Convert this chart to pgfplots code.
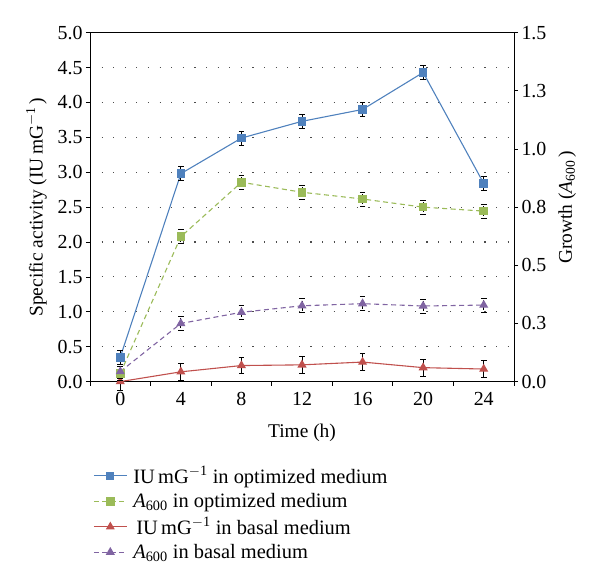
\documentclass[border=0pt]{standalone}
\usepackage{pgfplots}
\pgfplotsset{compat=1.18}
\usepackage{fontspec}
\setmainfont{Liberation Serif}
\definecolor{cblue}{HTML}{4F81BD}
\definecolor{cgreen}{HTML}{9BBB59}
\definecolor{cred}{HTML}{C0504D}
\definecolor{cpurple}{HTML}{8064A2}
\newcommand{\IU}{IU\,mG\textsuperscript{$-$1}}
\newcommand{\Asix}{\textit{A}\textsubscript{600}}
\begin{document}
\begin{tikzpicture}
\path[use as bounding box] (-90bp,-203.4bp) rectangle (510bp,381.6bp);
\pgfplotsset{
 common/.style={
  scale only axis, width=424bp, height=348.9bp,
  xmin=-2, xmax=26, clip=false,
  font=\fontsize{19}{22}\selectfont,
  tick label style={font=\fontsize{20}{22}\selectfont},
  label style={font=\fontsize{19.5}{22}\selectfont},
  /pgf/number format/assume math mode=true,
  /pgf/number format/fixed, /pgf/number format/fixed zerofill, /pgf/number format/precision=1,
  tick style={black, line width=0.8pt},
  axis line style={black, line width=1pt},
  tick align=outside, major tick length=4bp, minor tick length=4bp,
 },
 ebar/.style={error bars/.cd, y dir=both, y explicit, error bar style={black, line width=0.9pt}, error mark options={black, rotate=90, mark size=2.8bp, line width=0.9pt}},
}
\begin{axis}[common,
  ymin=0, ymax=5, ytick={0,0.5,...,5},
  xtick={0,4,...,24}, major x tick style={draw=none},
  minor xtick={-2,2,...,26},
  xtick pos=bottom, ytick pos=left,
  ymajorgrids, grid style={black!70, line width=1.1pt, dash pattern=on 1.1bp off 10.5bp},
  xlabel={Time (h)},
  ylabel={Specific activity (\IU\,)},
  xticklabel style={yshift=-3bp, /pgf/number format/precision=0, /pgf/number format/fixed zerofill=false},
  xlabel style={yshift=-12bp},
  ylabel style={yshift=4bp},
]
\addplot[cblue, line width=1.1pt, mark=square*, mark size=3.8bp, mark options={solid, fill=cblue, draw=cblue}, ebar]
 coordinates {(0,0.35) +- (0,0.1) (4,2.98) +- (0,0.1) (8,3.49) +- (0,0.1) (12,3.73) +- (0,0.1) (16,3.90) +- (0,0.1) (20,4.43) +- (0,0.1) (24,2.84) +- (0,0.1)};
\addplot[cred, line width=1.1pt, mark=triangle*, mark size=4.2bp, mark options={solid, fill=cred, draw=cred}, ebar]
 coordinates {(0,0) +- (0,0.12) (4,0.14) +- (0,0.12) (8,0.23) +- (0,0.12) (12,0.24) +- (0,0.12) (16,0.28) +- (0,0.12) (20,0.20) +- (0,0.12) (24,0.18) +- (0,0.12)};
\end{axis}
\begin{axis}[common,
  ymin=0, ymax=1.5, ytick={0,0.25,...,1.5},
  yticklabels={0.0,0.3,0.5,0.8,1.0,1.3,1.5},
  axis y line*=right, axis x line=none,
  ylabel={Growth (\Asix\,)},
  ylabel style={yshift=-5bp},
  legend style={at={(0.005,-0.234)}, anchor=north west, draw=none, fill=none,
    font=\fontsize{20.5}{22}\selectfont, row sep=4.5bp, inner sep=1bp,
    /tikz/every odd column/.append style={column sep=4bp}},
  legend cell align=left,
  legend image code/.code={\draw[mark repeat=2,mark phase=2] plot coordinates {(0cm,0cm) (0.58cm,0cm) (1.16cm,0cm)};},
]
\addlegendimage{cblue, line width=1.1pt, mark=square*, mark size=3.5bp, mark options={solid, fill=cblue, draw=cblue}}
\addlegendentry{\IU\ in optimized medium}
\addplot[cgreen, line width=1.1pt, dash pattern=on 5bp off 3.5bp, mark=square*, mark size=3.8bp, mark options={solid, fill=cgreen, draw=cgreen}, ebar]
 coordinates {(0,0.035) +- (0,0.03) (4,0.623) +- (0,0.03) (8,0.857) +- (0,0.03) (12,0.814) +- (0,0.03) (16,0.785) +- (0,0.03) (20,0.75) +- (0,0.03) (24,0.733) +- (0,0.03)};
\addlegendentry{\Asix\ in optimized medium}
\addlegendimage{cred, line width=1.1pt, mark=triangle*, mark size=4bp, mark options={solid, fill=cred, draw=cred}}
\addlegendentry{\hspace{3bp}\IU\ in basal medium}
\addplot[cpurple, line width=1.1pt, dash pattern=on 5bp off 3.5bp, mark=triangle*, mark size=4.2bp, mark options={solid, fill=cpurple, draw=cpurple}, ebar]
 coordinates {(0,0.043) +- (0,0.03) (4,0.25) +- (0,0.03) (8,0.298) +- (0,0.03) (12,0.326) +- (0,0.03) (16,0.335) +- (0,0.03) (20,0.325) +- (0,0.03) (24,0.329) +- (0,0.03)};
\addlegendentry{\Asix\ in basal medium}
\end{axis}
\end{tikzpicture}
\end{document}
